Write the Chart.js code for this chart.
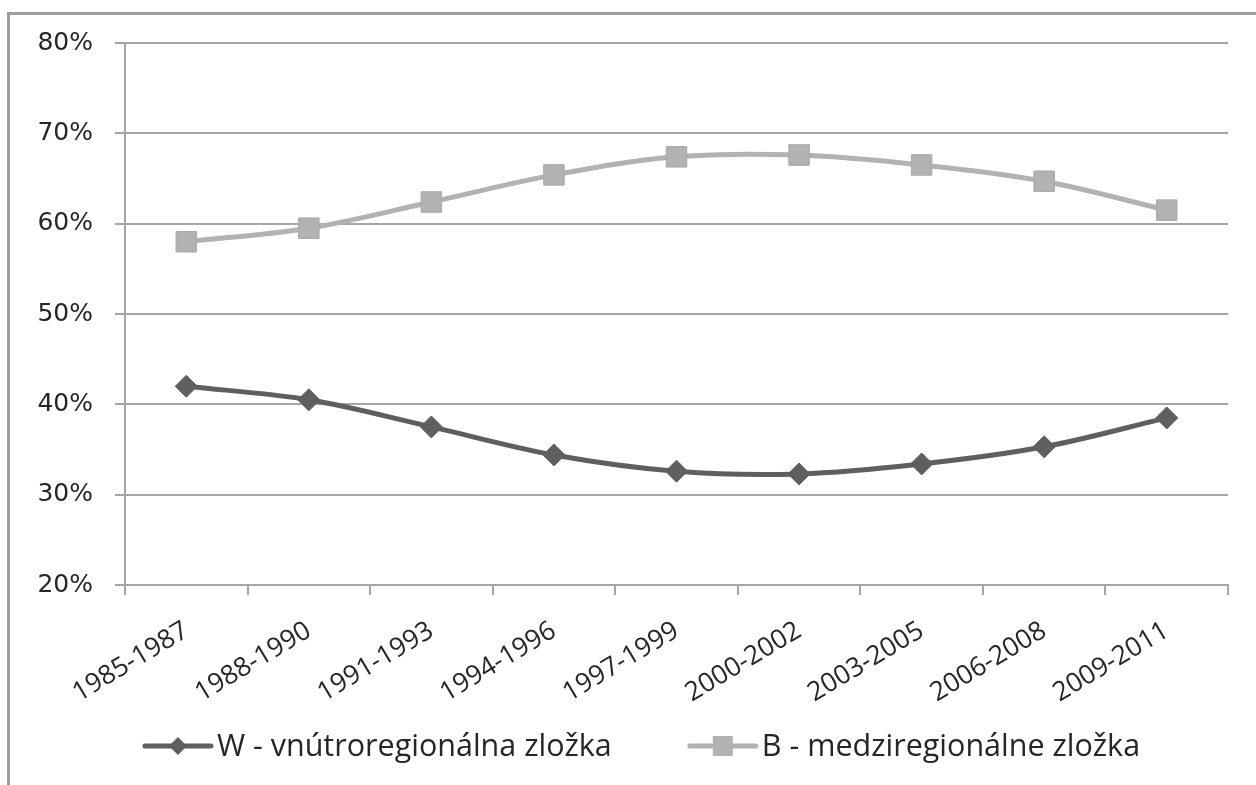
<!DOCTYPE html>
<html><head><meta charset="utf-8">
<script src="https://cdn.jsdelivr.net/npm/chart.js@4.4.1/dist/chart.umd.min.js"></script>
<style>
html,body{margin:0;padding:0;background:#fff;}
#wrap{position:relative;width:1256px;height:785px;overflow:hidden;}
#frame{position:absolute;left:7px;top:12px;width:1300px;height:800px;border-top:3px solid #9c9c9c;border-left:3px solid #9c9c9c;pointer-events:none;}
canvas{position:absolute;left:0;top:0;}
</style></head><body>
<div id="wrap"><canvas id="c" width="1256" height="785"></canvas><div id="frame"></div></div>
<script>
const categories = ['1985-1987','1988-1990','1991-1993','1994-1996','1997-1999','2000-2002','2003-2005','2006-2008','2009-2011'];
const seriesW = [42.0, 40.5, 37.5, 34.4, 32.6, 32.3, 33.4, 35.3, 38.5];
const seriesB = [58.0, 59.5, 62.4, 65.4, 67.4, 67.6, 66.5, 64.7, 61.5];
const seriesNames = ['W - vnútroregionálna zložka', 'B - medziregionálne zložka'];
const yTickValues = [20, 30, 40, 50, 60, 70, 80];

const colW = '#5f5f5f', colB = '#b2b2b2', gridCol = '#a6a6a6', textCol = '#262626';

function makeIcon(color, style) {
  const cv = document.createElement('canvas');
  cv.width = 72; cv.height = 24;
  const g = cv.getContext('2d');
  g.strokeStyle = color; g.lineWidth = 5; g.lineCap = 'round';
  g.beginPath(); g.moveTo(3, 12); g.lineTo(69, 12); g.stroke();
  g.fillStyle = color;
  g.beginPath();
  if (style === 'diamond') {
    g.moveTo(36, 3); g.lineTo(45, 12); g.lineTo(36, 21); g.lineTo(27, 12); g.closePath();
  } else {
    g.rect(26, 2, 20, 20);
  }
  g.fill();
  return cv;
}
const icons = [makeIcon(colW, 'diamond'), makeIcon(colB, 'square')];

const lineLegend = {
  id: 'lineLegend',
  afterDraw(chart) {
    const ctx = chart.ctx;
    ctx.save();
    ctx.font = '30.5px "Open Sans"';
    ctx.textBaseline = 'middle';
    ctx.fillStyle = textCol;
    const ds = chart.data.datasets;
    const iconW = 72, gapT = 3, gapItem = 75;
    const widths = ds.map(d => iconW + gapT + ctx.measureText(d.label).width);
    const total = widths.reduce((a, b) => a + b, 0) + gapItem * (ds.length - 1);
    let x = 641 - total / 2;
    const y = 746;
    ds.forEach((d, i) => {
      ctx.drawImage(icons[i], x, y - icons[i].height / 2);
      ctx.fillText(d.label, x + iconW + gapT, y + 1);
      x += widths[i] + gapItem;
    });
    ctx.restore();
  }
};

new Chart(document.getElementById('c'), {
  type: 'line',
  data: {
    labels: categories,
    datasets: [
      { label: seriesNames[0], data: seriesW, borderColor: colW, backgroundColor: colW, borderWidth: 5,
        tension: 0.35, pointStyle: 'rectRot', pointRadius: 11, pointBorderWidth: 1, pointBorderColor: colW, pointBackgroundColor: colW },
      { label: seriesNames[1], data: seriesB, borderColor: colB, backgroundColor: colB, borderWidth: 5,
        tension: 0.35, pointStyle: 'rect', pointRadius: 14.5, pointBorderWidth: 1, pointBorderColor: '#a9a9a9', pointBackgroundColor: colB }
    ]
  },
  plugins: [lineLegend],
  options: {
    responsive: false, animation: false,
    layout: { padding: { top: 43, right: 28, left: 0, bottom: 63 } },
    plugins: {
      tooltip: { enabled: false },
      legend: { display: false }
    },
    scales: {
      x: {
        offset: true,
        grid: { offset: true, drawOnChartArea: false, drawTicks: true, tickLength: 10, color: gridCol, lineWidth: 2 },
        border: { color: gridCol, width: 2 },
        ticks: { autoSkip: false, minRotation: 31, maxRotation: 31, padding: 20, color: textCol,
                 font: { family: 'Open Sans', size: 26.5 } },
        afterFit(s) { s.height = 137; }
      },
      y: {
        min: 20, max: 80,
        afterBuildTicks(s) { s.ticks = yTickValues.map(v => ({ value: v })); },
        grid: { color: gridCol, lineWidth: 2, tickLength: 10 },
        border: { color: gridCol, width: 2 },
        ticks: { padding: 22, color: textCol, font: { family: 'DejaVu Sans', size: 25 }, callback: v => v + '%' },
        afterFit(s) { s.width = 125; }
      }
    }
  }
});
</script>
</body></html>
